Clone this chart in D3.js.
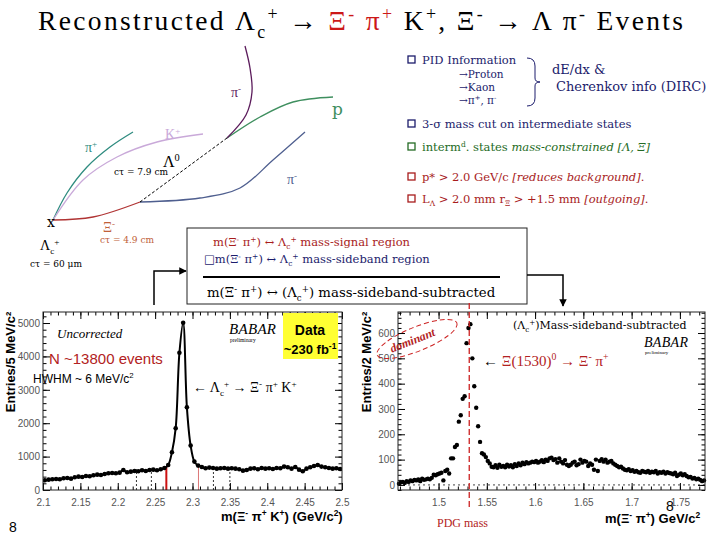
<!DOCTYPE html>
<html>
<head>
<meta charset="utf-8">
<script src="https://cdn.jsdelivr.net/npm/d3@7"></script>
<style>
  body { margin: 0; background: #fff; }
</style>
</head>
<body>
<svg id="canvas"></svg>
<script>
const width = 720, height = 540;

// Left histogram: m(Xi- pi+ K+), 5 MeV bins from 2.100 to 2.500 GeV
const lcStart = 2.1, lcBin = 0.005;
const lcCounts = [
  290, 310, 320, 330, 320, 350, 360, 340, 380, 400,
  390, 420, 410, 440, 460, 450, 480, 500, 510, 500,
  520, 600, 530, 550, 570, 560, 590, 570, 600, 610,
  590, 620, 660, 750, 1130, 1850, 4110, 5010, 2475, 1330,
  850, 730, 690, 650, 670, 660, 640, 650, 660, 640,
  650, 640, 620, 580, 600, 640, 650, 620, 660, 640,
  650, 630, 660, 650, 700, 680, 640, 690, 610, 560,
  640, 680, 720, 750, 700, 680, 660, 640, 650, 630
];
const lcSignal = [2.265, 2.308];          // signal window edges
const lcSidebands = [2.225, 2.245, 2.328, 2.35];
const lcXTicks = [2.1, 2.15, 2.2, 2.25, 2.3, 2.35, 2.4, 2.45, 2.5];
const lcYTicks = [0, 1000, 2000, 3000, 4000, 5000];

// Right histogram: m(Xi- pi+), 2 MeV bins, first centre 1.459 GeV
const xiStart = 1.458, xiBin = 0.002;
const xiCounts = [
  5, 10, 12, 8, 15, 12, 18, 15, 20, 18,
  22, 15, 25, 20, 22, 25, 22, 28, 40, 38,
  42, 45, 48, 18, 55, 60, 45, 105, 105, 150,
  158, 250, 275, 340, 350, 560, 620, 635, 500, 390,
  305, 232, 170, 125, 120, 110, 95, 85,
  72, 70, 78, 68, 80, 72, 75, 70, 80, 73, 78, 70, 82, 75, 85, 78, 88, 82, 90, 85, 88, 92, 90,
  95, 88, 92, 98, 90, 100, 95, 105, 108, 98,
  102, 88, 105, 92, 85, 98, 80, 75, 80, 88,
  92, 78, 82, 100, 88, 95, 92, 75, 85, 80,
  60, 100, 55, 95, 102, 92, 100, 88, 92, 95,
  85, 80, 75, 70, 72, 65, 60, 58, 62, 55,
  58, 52, 55, 50, 48, 55, 52, 50, 55, 48,
  52, 50, 55, 45, 50, 48, 52, 45, 50, 47,
  45, 42, 48, 35, 40, 45, 38, 42, 35, 30,
  32, 25, 28, 22, 25, 20, 15, 18
];
const pdgMass = 1.5318;
const xiXTicks = [1.5, 1.55, 1.6, 1.65, 1.7, 1.75];
const xiYTicks = [0, 100, 200, 300, 400, 500, 600];

// Decay sketch tracks (pixel space of the drawing)
const tracks = [
  { name: "piPlus", color: "#2f8c80", pts: [[53,220],[67,193],[87,167],[110,147],[133,132]] },
  { name: "kPlus",  color: "#c9a9d9", pts: [[53,220],[83,180],[117,157],[157,142],[203,134]] },
  { name: "xi",     color: "#b03434", pts: [[53,220],[93,217],[140,202]] },
  { name: "piMinusXi", color: "#4f5f8f", pts: [[140,202],[200,198],[240,188],[273,160],[305,132]] },
  { name: "proton", color: "#3f8f5f", pts: [[227,138],[260,117],[293,102],[333,97]] },
  { name: "piMinusL", color: "#5c1c5c", pts: [[227,138],[246,115],[252,92],[250,68],[245,46]] }
];

const serif = "DejaVu Serif, serif";
const tserif = "Liberation Serif, serif";
const sans = "Liberation Sans, sans-serif";

const svg = d3.select("#canvas")
    .attr("width", width)
    .attr("height", height)
    .attr("font-family", serif)
    .style("background", "#fff");

// rich text helper: parts are [text, mode("sup"/"sub"/""), fill, fontStyle]
function rich(parent, x, y, size, parts, attrs) {
    const t = parent.append("text").attr("x", x).attr("y", y).attr("font-size", size);
    Object.entries(attrs || {}).forEach(([k, v]) => t.attr(k, v));
    let shift = 0;
    parts.forEach(p => {
        const [str, mode, fill, style] = typeof p === "string" ? [p] : p;
        const target = mode === "sup" ? -size * 0.38 : mode === "sub" ? size * 0.28 : 0;
        const s = t.append("tspan").text(str).attr("dy", target - shift);
        if (mode) s.attr("font-size", size * 0.65);
        if (fill) s.attr("fill", fill);
        if (style) s.attr("font-style", style);
        shift = target;
    });
    return t;
}

// ROOT-style frame with inward ticks on all four sides
function rootFrame(g, x, y, xMajor, xMinor, yMajor, yMinor, xFmt, yFmt) {
    const [x0, x1] = x.range(), [y0, y1] = y.range();
    const ax = [
        [d3.axisBottom(x), `translate(0,${y0})`, xMajor, xMinor, xFmt, 9],
        [d3.axisTop(x), `translate(0,${y1})`, xMajor, xMinor, () => "", 0],
        [d3.axisLeft(y), `translate(${x0},0)`, yMajor, yMinor, yFmt, 3],
        [d3.axisRight(y), `translate(${x1},0)`, yMajor, yMinor, () => "", 0]
    ];
    ax.forEach(([a, tr, maj, min, fmt, pad]) => {
        const gm = g.append("g").attr("transform", tr)
            .call(a.tickValues(maj).tickSize(-7).tickPadding(pad).tickFormat(fmt));
        gm.select(".domain").remove();
        gm.selectAll("text").attr("font-family", sans)
            .attr("font-size", 10).attr("fill", "#555");
        const gn = g.append("g").attr("transform", tr)
            .call(a.tickValues(min).tickSize(-3.5).tickFormat(""));
        gn.select(".domain").remove();
    });
    g.append("rect").attr("x", x0).attr("y", y1).attr("width", x1 - x0).attr("height", y0 - y1)
        .attr("fill", "none").attr("stroke", "#222").attr("stroke-width", 1);
}

// ---------- Title ----------
rich(svg, 38, 30, 27.5, [
    "Reconstructed \u039B", ["c", "sub"], ["+", "sup"], " \u2192 ",
    ["\u039E", "", "#cc1818"], ["-", "sup", "#cc1818"], [" \u03C0", "", "#cc1818"], ["+", "sup", "#cc1818"],
    " K", ["+", "sup"], ", \u039E", ["-", "sup"], " \u2192 \u039B \u03C0", ["-", "sup"], " Events"
], { "font-family": tserif, "textLength": 645, "lengthAdjust": "spacing" });

// ---------- Decay sketch ----------
const sketch = svg.append("g");
const trackLine = d3.line().curve(d3.curveCatmullRom);
sketch.selectAll("path.track")
    .data(tracks)
    .enter()
    .append("path")
    .attr("class", "track")
    .attr("d", d => trackLine(d.pts))
    .attr("fill", "none")
    .attr("stroke", d => d.color)
    .attr("stroke-width", 1.3);
sketch.append("line")
    .attr("x1", 140).attr("y1", 202).attr("x2", 227).attr("y2", 138)
    .attr("stroke", "#000").attr("stroke-width", 1).attr("stroke-dasharray", "3,2");

rich(sketch, 231, 97, 14, [["\u03C0", "", "#5c1c5c"], ["-", "sup", "#5c1c5c"]], { "font-family": tserif });
sketch.append("text").attr("x", 332).attr("y", 115).attr("font-size", 17).attr("fill", "#3f8f5f").text("p");
rich(sketch, 165, 139, 14, [["K", "", "#c9a9d9"], ["+", "sup", "#c9a9d9"]], { "font-family": tserif });
rich(sketch, 85, 152, 14, [["\u03C0", "", "#2f8c80"], ["+", "sup", "#2f8c80"]], { "font-family": tserif });
rich(sketch, 163, 167, 16, ["\u039B", ["0", "sup"]], { "font-family": tserif });
sketch.append("text").attr("x", 114).attr("y", 175).attr("font-size", 9).text("c\u03C4 = 7.9 cm");
rich(sketch, 287, 184, 14, [["\u03C0", "", "#4f5f8f"], ["-", "sup", "#4f5f8f"]], { "font-family": tserif });
sketch.append("text").attr("x", 47).attr("y", 227).attr("font-size", 14).text("x");
rich(sketch, 103, 232, 14, [["\u039E", "", "#c0603a"], ["-", "sup", "#c0603a"]], { "font-family": tserif });
sketch.append("text").attr("x", 100).attr("y", 243).attr("font-size", 9).attr("fill", "#c0603a").text("c\u03C4 = 4.9 cm");
rich(sketch, 40, 250, 14, ["\u039B", ["c", "sub"], ["+", "sup"]], { "font-family": tserif });
sketch.append("text").attr("x", 30).attr("y", 267).attr("font-size", 9).text("c\u03C4 = 60 \u03BCm");

// ---------- Selection bullets ----------
const navy = "#1c1c6c", green = "#246b24", red = "#a81c1c";
function bullet(x, y, color) {
    svg.append("rect").attr("x", x).attr("y", y - 8).attr("width", 7).attr("height", 7)
        .attr("fill", "none").attr("stroke", color).attr("stroke-width", 1.3);
}
bullet(408, 64, navy);
svg.append("text").attr("x", 422).attr("y", 64).attr("font-size", 11.5).attr("fill", navy).text("PID Information");
svg.append("text").attr("x", 459).attr("y", 78).attr("font-size", 10.5).attr("fill", navy).text("\u2192Proton");
svg.append("text").attr("x", 459).attr("y", 91).attr("font-size", 10.5).attr("fill", navy).text("\u2192Kaon");
rich(svg, 459, 104, 10.5, ["\u2192\u03C0", ["+", "sup"], ", \u03C0", ["-", "sup"]], { fill: navy });
svg.append("path")
    .attr("d", "M527,58 Q535,58 535,66 L535,78 Q535,82 540,82 Q535,82 535,86 L535,98 Q535,106 527,106")
    .attr("fill", "none").attr("stroke", navy).attr("stroke-width", 1);
svg.append("text").attr("x", 552).attr("y", 74).attr("font-size", 13).attr("fill", navy).text("dE/dx &");
svg.append("text").attr("x", 556).attr("y", 91).attr("font-size", 13).attr("fill", navy).text("Cherenkov info (DIRC)");

bullet(408, 128, navy);
svg.append("text").attr("x", 422).attr("y", 128).attr("font-size", 11.5).attr("fill", navy)
    .text("3-\u03C3 mass cut on intermediate states");
bullet(408, 151, green);
rich(svg, 422, 151, 11.5, ["interm", ["d", "sup"], ". states ", ["mass-constrained [\u039B, \u039E]", "", null, "italic"]], { fill: green });
bullet(408, 181, red);
rich(svg, 422, 181, 11.5, ["p* > 2.0 GeV/c ", ["[reduces background]", "", null, "italic"], "."], { fill: red });
bullet(408, 203, red);
rich(svg, 422, 203, 11.5, ["L", ["\u039B", "sub"], " > 2.0  mm r", ["\u039E", "sub"], " > +1.5 mm ",
    ["[outgoing]", "", null, "italic"], "."], { fill: red });

// ---------- Sideband box ----------
svg.append("rect").attr("x", 187).attr("y", 228).attr("width", 340).attr("height", 76)
    .attr("fill", "#fff").attr("stroke", "#222").attr("stroke-width", 1);
rich(svg, 213, 246, 11.5, ["m(\u039E", ["-", "sup"], " \u03C0", ["+", "sup"], ") \u2194 \u039B", ["c", "sub"], ["+", "sup"],
    " mass-signal region"], { fill: red });
rich(svg, 204, 263, 11.5, ["\u25A1m(\u039E", ["-", "sup"], " \u03C0", ["+", "sup"], ") \u2194 \u039B", ["c", "sub"], ["+", "sup"],
    " mass-sideband region"], { fill: navy });
svg.append("line").attr("x1", 203).attr("x2", 500).attr("y1", 277).attr("y2", 277)
    .attr("stroke", "#000").attr("stroke-width", 2);
rich(svg, 207, 297, 13.3, ["m(\u039E", ["-", "sup"], " \u03C0", ["+", "sup"], ") \u2194 (\u039B", ["c", "sub"], ["+", "sup"],
    ") mass-sideband-subtracted"]);

// connectors
svg.append("defs").append("marker").attr("id", "arr").attr("viewBox", "0 0 10 10")
    .attr("refX", 9).attr("refY", 5).attr("markerWidth", 5).attr("markerHeight", 5).attr("orient", "auto")
    .append("path").attr("d", "M0,0 L10,5 L0,10 z").attr("fill", "#000");
svg.append("path").attr("d", "M154,305 L154,271 L186,271").attr("fill", "none")
    .attr("stroke", "#000").attr("stroke-width", 1.5).attr("marker-end", "url(#arr)");
svg.append("path").attr("d", "M527,275 L563,275 L563,306").attr("fill", "none")
    .attr("stroke", "#000").attr("stroke-width", 1.5).attr("marker-end", "url(#arr)");

// ---------- Left histogram ----------
const xL = d3.scaleLinear().domain([2.1, 2.5]).range([43, 342]);
const yL = d3.scaleLinear().domain([0, 5330]).range([490, 312]);
const gL = svg.append("g");
svg.append("clipPath").attr("id", "clipL").append("rect")
    .attr("x", 43).attr("y", 312).attr("width", 299).attr("height", 178);

const lcPoints = lcCounts.map((c, i) => ({ m: lcStart + lcBin * (i + 0.5), c }));

// sideband and signal markers
gL.selectAll("line.sb")
    .data(lcSidebands)
    .enter()
    .append("line")
    .attr("x1", d => xL(d)).attr("x2", d => xL(d))
    .attr("y1", yL(0)).attr("y2", yL(620))
    .attr("stroke", "#333").attr("stroke-width", 1).attr("stroke-dasharray", "2,2");
gL.append("line")
    .attr("x1", xL(lcSignal[0])).attr("x2", xL(lcSignal[0]))
    .attr("y1", yL(0)).attr("y2", yL(720))
    .attr("stroke", "#cc1111").attr("stroke-width", 2);
gL.append("line")
    .attr("x1", xL(lcSignal[1])).attr("x2", xL(lcSignal[1]))
    .attr("y1", yL(0)).attr("y2", yL(720))
    .attr("stroke", "#dd7777").attr("stroke-width", 1);

gL.append("path")
    .datum(lcPoints)
    .attr("clip-path", "url(#clipL)")
    .attr("d", d3.line().x(d => xL(d.m)).y(d => yL(d.c)).curve(d3.curveCatmullRom))
    .attr("fill", "none").attr("stroke", "#000").attr("stroke-width", 2);
gL.append("g").attr("clip-path", "url(#clipL)")
    .selectAll("circle")
    .data(lcPoints)
    .enter()
    .append("circle")
    .attr("cx", d => xL(d.m)).attr("cy", d => yL(d.c))
    .attr("r", 2.3).attr("fill", "#000");

rootFrame(gL, xL, yL, lcXTicks, d3.range(2.1, 2.5001, 0.01), lcYTicks, d3.range(0, 5330, 200),
    d => d3.format(".3~f")(d), d => d);

svg.append("text").attr("transform", "translate(15,362) rotate(-90)").attr("text-anchor", "middle")
    .attr("font-family", sans).attr("font-weight", "bold").attr("font-size", 13)
    .text("Entries/5 MeV/c\u00B2");
rich(svg, 221, 521, 13, ["m(\u039E", ["-", "sup"], " \u03C0", ["+", "sup"], " K", ["+", "sup"], ") (GeV/c", ["2", "sup"], ")"],
    { "font-family": sans, "font-weight": "bold" });

svg.append("text").attr("x", 57).attr("y", 338).attr("font-size", 13).attr("font-style", "italic")
    .attr("font-family", tserif).text("Uncorrected");
svg.append("text").attr("x", 49).attr("y", 364).attr("font-size", 15).attr("fill", "#b22222")
    .attr("font-family", sans).text("N ~13800 events");
rich(svg, 33, 383, 12, ["HWHM ~ 6 MeV/c", ["2", "sup"]], { "font-family": sans });
svg.append("text").attr("x", 229).attr("y", 334).attr("font-size", 15).attr("font-style", "italic")
    .attr("font-family", tserif).attr("letter-spacing", 0.3).text("BABAR");
svg.append("text").attr("x", 230).attr("y", 342).attr("font-size", 5.5)
    .attr("font-family", tserif).text("preliminary");
svg.append("rect").attr("x", 283).attr("y", 313).attr("width", 55).attr("height", 46).attr("fill", "#ffff33");
svg.append("text").attr("x", 310).attr("y", 335).attr("text-anchor", "middle").attr("font-size", 14)
    .attr("font-weight", "bold").attr("font-family", sans).text("Data");
rich(svg, 310, 354, 13, ["~230 fb", ["-1", "sup"]], { "text-anchor": "middle", "font-weight": "bold",
    "font-family": sans });
rich(svg, 193, 392, 14, ["\u2190  \u039B", ["c", "sub"], ["+", "sup"], " \u2192 \u039E", ["-", "sup"], " \u03C0", ["+", "sup"], " K", ["+", "sup"]],
    { "font-family": tserif });
svg.append("text").attr("x", 9).attr("y", 532).attr("font-size", 14)
    .attr("font-family", sans).text("8");

// ---------- Right histogram ----------
const xR = d3.scaleLinear().domain([1.458, 1.776]).range([398, 705]);
const yR = d3.scaleLinear().domain([-20, 683]).range([490, 312]);
const gR = svg.append("g");
const xiPoints = xiCounts.map((c, i) => ({ m: xiStart + xiBin * (i + 0.5), c }));

gR.append("line").attr("x1", 398).attr("x2", 705).attr("y1", yR(0)).attr("y2", yR(0))
    .attr("stroke", "#444").attr("stroke-width", 1).attr("stroke-dasharray", "2,3");
gR.selectAll("circle")
    .data(xiPoints)
    .enter()
    .append("circle")
    .attr("cx", d => xR(d.m)).attr("cy", d => yR(d.c))
    .attr("r", 2.2).attr("fill", "#000");

rootFrame(gR, xR, yR, xiXTicks, d3.range(1.46, 1.7761, 0.01), xiYTicks, d3.range(-20, 683, 20),
    d => d3.format(".3~f")(d), d => d);

gR.append("line").attr("x1", xR(pdgMass)).attr("x2", xR(pdgMass)).attr("y1", 303).attr("y2", 510)
    .attr("stroke", "#cc2222").attr("stroke-width", 1.3).attr("stroke-dasharray", "6,3");
svg.append("text").attr("x", 437).attr("y", 527).attr("font-size", 12).attr("fill", "#b22222")
    .attr("font-family", tserif).text("PDG mass");

svg.append("text").attr("transform", "translate(371,362) rotate(-90)").attr("text-anchor", "middle")
    .attr("font-family", sans).attr("font-weight", "bold").attr("font-size", 13)
    .text("Entries/2 MeV/c\u00B2");
rich(svg, 605, 523, 13, ["m(\u039E", ["-", "sup"], " \u03C0", ["+", "sup"], ")  GeV/c", ["2", "sup"]],
    { "font-family": sans, "font-weight": "bold" });

rich(svg, 513, 329, 11, ["(\u039B", ["c", "sub"], ["+", "sup"], ")Mass-sideband-subtracted"]);
svg.append("text").attr("x", 644).attr("y", 347).attr("font-size", 14).attr("font-style", "italic")
    .attr("font-family", tserif).attr("letter-spacing", 0.3).text("BABAR");
svg.append("text").attr("x", 645).attr("y", 354).attr("font-size", 5)
    .attr("font-family", tserif).text("preliminary");
rich(svg, 483, 366, 15, ["\u2190  ", ["\u039E(1530)", "", "#b22222"], ["0", "sup", "#b22222"],
    [" \u2192 \u039E", "", "#b22222"], ["-", "sup", "#b22222"], [" \u03C0", "", "#b22222"], ["+", "sup", "#b22222"]],
    { "font-family": tserif });
svg.append("ellipse").attr("cx", 417).attr("cy", 339).attr("rx", 43).attr("ry", 12)
    .attr("transform", "rotate(-22,417,339)")
    .attr("fill", "none").attr("stroke", "#cc2222").attr("stroke-width", 1).attr("stroke-dasharray", "5,3");
svg.append("text").attr("transform", "translate(414,344) rotate(-22)").attr("text-anchor", "middle")
    .attr("font-size", 12).attr("font-weight", "bold").attr("font-style", "italic").attr("fill", "#b22222")
    .attr("font-family", tserif).text("dominant");
svg.append("text").attr("x", 666).attr("y", 511).attr("font-size", 14)
    .attr("font-family", sans).text("8");
</script>
</body>
</html>
